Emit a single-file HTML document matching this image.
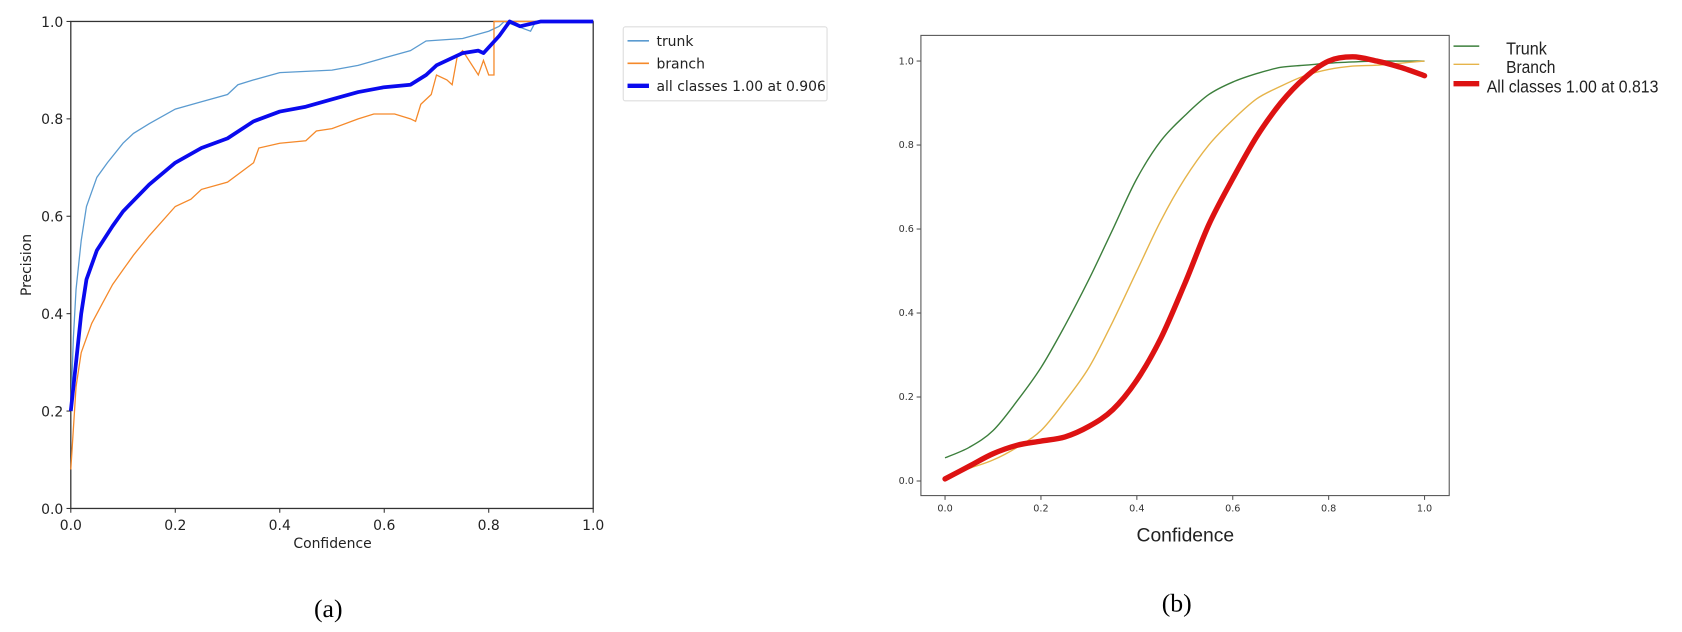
<!DOCTYPE html>
<html><head><meta charset="utf-8"><style>
body{margin:0;background:#fff;width:1682px;height:632px;overflow:hidden}
svg{display:block}
</style></head><body>
<svg id="fig" width="1682" height="632" xmlns="http://www.w3.org/2000/svg" font-family="'DejaVu Sans','Liberation Sans',sans-serif">
<g transform="scale(1.0727)">
<g id="A"></g>
<g id="B"></g>
<text x="306" y="575" font-family="'Liberation Serif',serif" font-size="24" text-anchor="middle">(a)</text>
<text x="1097" y="570" font-family="'Liberation Serif',serif" font-size="24" text-anchor="middle">(b)</text>
</g>
</svg>
<script>
// Chart A data
const aTrunkX=[0,0.005,0.01,0.02,0.03,0.05,0.07,0.1,0.12,0.15,0.2,0.25,0.3,0.32,0.35,0.4,0.5,0.55,0.6,0.65,0.68,0.75,0.8,0.82,0.83,0.88,0.89,1];
const aTrunkY=[0.2,0.35,0.45,0.55,0.62,0.68,0.71,0.75,0.77,0.79,0.82,0.835,0.85,0.87,0.88,0.895,0.9,0.91,0.925,0.94,0.96,0.965,0.98,0.99,1,0.98,1,1];
const aBranchX=[0,0.01,0.02,0.04,0.06,0.08,0.1,0.12,0.15,0.2,0.23,0.25,0.3,0.35,0.36,0.4,0.45,0.47,0.5,0.55,0.58,0.62,0.65,0.66,0.67,0.69,0.7,0.72,0.73,0.74,0.75,0.78,0.79,0.8,0.81,0.81,0.83,1];
const aBranchY=[0.08,0.25,0.32,0.38,0.42,0.46,0.49,0.52,0.56,0.62,0.635,0.655,0.67,0.71,0.74,0.75,0.755,0.775,0.78,0.8,0.81,0.81,0.8,0.795,0.83,0.85,0.89,0.88,0.87,0.93,0.94,0.89,0.92,0.89,0.89,1,1,1];
const aAllX=[0,0.01,0.02,0.03,0.05,0.08,0.1,0.15,0.2,0.25,0.3,0.35,0.4,0.45,0.5,0.55,0.6,0.65,0.68,0.7,0.75,0.78,0.79,0.82,0.84,0.86,0.9,1];
const aAllY=[0.2,0.3,0.4,0.47,0.53,0.58,0.61,0.665,0.71,0.74,0.76,0.795,0.815,0.825,0.84,0.855,0.865,0.87,0.89,0.91,0.935,0.94,0.935,0.97,1,0.99,1,1];
const aTicks=["0.0","0.2","0.4","0.6","0.8","1.0"];
// Chart B data
const bX=[0,0.05,0.1,0.15,0.2,0.25,0.3,0.35,0.4,0.45,0.5,0.55,0.6,0.65,0.7,0.75,0.8,0.85,0.9,0.95,1];
const bTrunk=[0.055,0.08,0.12,0.19,0.27,0.37,0.48,0.6,0.72,0.81,0.87,0.92,0.95,0.97,0.985,0.99,0.995,0.998,1,1,1];
const bBranch=[0.01,0.03,0.05,0.08,0.12,0.19,0.27,0.38,0.5,0.62,0.72,0.8,0.86,0.91,0.94,0.965,0.98,0.988,0.99,0.995,1];
const bAll=[0.005,0.035,0.065,0.085,0.095,0.105,0.13,0.17,0.24,0.34,0.47,0.61,0.72,0.82,0.9,0.96,1.0,1.01,1.0,0.985,0.965];
const bTicks=["0.0","0.2","0.4","0.6","0.8","1.0"];

const NS="http://www.w3.org/2000/svg";
function mk(parent,tag,attrs,text){const e=document.createElementNS(NS,tag);for(const k in attrs)e.setAttribute(k,attrs[k]);if(text!==undefined)e.textContent=text;parent.appendChild(e);return e;}
function poly(xs,ys,sx,sy){return xs.map((x,i)=>(i?'L':'M')+sx(x).toFixed(1)+','+sy(ys[i]).toFixed(1)).join('');}
function smooth(xs,ys,sx,sy){const p=xs.map((x,i)=>[sx(x),sy(ys[i])]);let d='M'+p[0][0]+','+p[0][1];
 for(let i=0;i<p.length-1;i++){const p0=p[i-1]||p[i],p1=p[i],p2=p[i+1],p3=p[i+2]||p2;
 d+='C'+(p1[0]+(p2[0]-p0[0])/6).toFixed(1)+','+(p1[1]+(p2[1]-p0[1])/6).toFixed(1)+' '+(p2[0]-(p3[0]-p1[0])/6).toFixed(1)+','+(p2[1]-(p3[1]-p1[1])/6).toFixed(1)+' '+p2[0].toFixed(1)+','+p2[1].toFixed(1);}return d;}

// ---- Chart A ----
const A=document.getElementById('A');
const ax=v=>66+v*487, ay=v=>474-v*454;
let r=mk(A,'rect',{x:66,y:20,width:487,height:454,fill:'none',stroke:'#333','stroke-width':1.2});

aTicks.forEach(t=>{const v=+t;
 let e=mk(A,'line',{x1:ax(v),x2:ax(v),y1:474,y2:478,stroke:'#333'});
 e=mk(A,'text',{x:ax(v),y:494,'font-size':13,'text-anchor':'middle',fill:'#222'},t);
 e=mk(A,'line',{x1:62,x2:66,y1:ay(v),y2:ay(v),stroke:'#333'});
 e=mk(A,'text',{x:59,y:ay(v)+5,'font-size':13,'text-anchor':'end',fill:'#222'},t);
});
let e=mk(A,'text',{x:310,y:511,'font-size':13,'text-anchor':'middle',fill:'#222'},'Confidence');
e=mk(A,'text',{x:0,y:0,'font-size':13,'text-anchor':'middle',fill:'#222',transform:'translate(29,247) rotate(-90)'},'Precision');
e=mk(A,'path',{d:poly(aTrunkX,aTrunkY,ax,ay),fill:'none',stroke:'#5b9bd0','stroke-width':1.2});
e=mk(A,'path',{d:poly(aBranchX,aBranchY,ax,ay),fill:'none',stroke:'#f5892a','stroke-width':1.2});
e=mk(A,'path',{d:poly(aAllX,aAllY,ax,ay),fill:'none',stroke:'#0a0aee','stroke-width':3.5,'stroke-linejoin':'round'});
const lg=mk(A,'g',{});
mk(lg,'rect',{x:581,y:25,width:190,height:69,fill:'#fff',stroke:'#ddd',rx:2});
[['trunk','#5b9bd0',1.5,38],['branch','#f5892a',1.5,59],['all classes 1.00 at 0.906','#0a0aee',4,80]].forEach(l=>{
 const g=mk(lg,'g',{});
 mk(g,'line',{x1:585,x2:605,y1:l[3],y2:l[3],stroke:l[1],'stroke-width':l[2]});
 mk(g,'text',{x:612,y:l[3]+5,'font-size':13,fill:'#222'},l[0]);
});

// ---- Chart B ----
const B=document.getElementById('B');
const bx=v=>881+v*447, by=v=>448.4-v*391.5;
r=mk(B,'rect',{x:858.5,y:33,width:492.5,height:429,fill:'none',stroke:'#555','stroke-width':1});

bTicks.forEach(t=>{const v=+t;
 let e=mk(B,'line',{x1:bx(v),x2:bx(v),y1:462,y2:466,stroke:'#555'});
 e=mk(B,'text',{x:bx(v),y:477,'font-size':9,'text-anchor':'middle',fill:'#333'},t);
 e=mk(B,'line',{x1:854.5,x2:858.5,y1:by(v),y2:by(v),stroke:'#555'});
 e=mk(B,'text',{x:852,y:by(v)+3,'font-size':9,'text-anchor':'end',fill:'#333'},t);
});
e=mk(B,'text',{x:1105,y:505,'font-size':18,'text-anchor':'middle',fill:'#222','font-family':"'Liberation Sans',sans-serif"},'Confidence');
const cp=mk(B,'clipPath',{id:'clipP'});mk(cp,'rect',{x:815,y:200,width:12,height:100});
e=mk(B,'text',{x:0,y:0,'font-size':18,'text-anchor':'middle',fill:'#222','clip-path':'url(#clipP)',transform:'translate(815,247) rotate(90)'},'Precision');
e=mk(B,'path',{d:smooth(bX,bTrunk,bx,by),fill:'none',stroke:'#3c7f3c','stroke-width':1.3});
e=mk(B,'path',{d:smooth(bX,bBranch,bx,by),fill:'none',stroke:'#e6b44a','stroke-width':1.3});
e=mk(B,'path',{d:smooth(bX,bAll,bx,by),fill:'none',stroke:'#dd1212','stroke-width':5,'stroke-linecap':'round'});
const lg2=mk(B,'g',{});
[['Trunk','#3c7f3c',1.3,45,1404,38],['Branch','#e6b44a',1.3,62,1404,46],['All classes 1.00 at 0.813','#dd1212',5,80,1386,160]].forEach(l=>{
 const g=mk(lg2,'g',{});
 mk(g,'line',{x1:1355,x2:1379,y1:l[3]-2,y2:l[3]-2,stroke:l[1],'stroke-width':l[2]});
 mk(g,'text',{x:l[4],y:l[3]+6,'font-size':16,fill:'#222','font-family':"'Liberation Sans',sans-serif",textLength:l[5],lengthAdjust:'spacingAndGlyphs'},l[0]);
});
</script>
</body></html>
